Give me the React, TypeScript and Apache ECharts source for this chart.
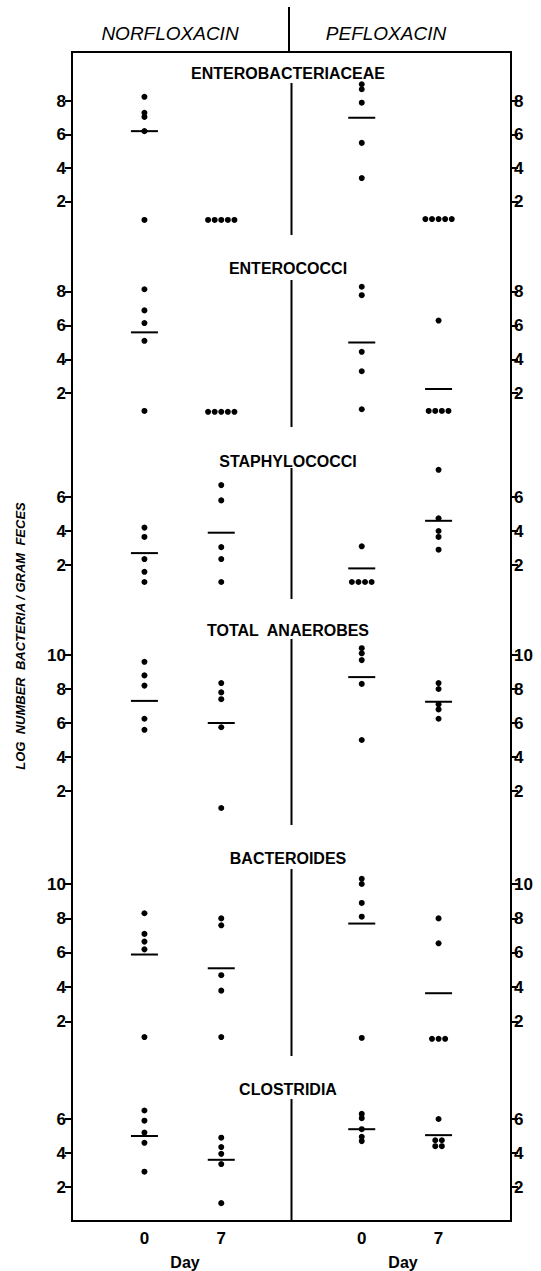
import React, { useEffect, useRef } from "react";
import * as echarts from "echarts";

// ---------- data ----------
const drugs = ["NORFLOXACIN", "PEFLOXACIN"];
const dayLabels = ["0", "7", "0", "7"];
const groupX = [1.65, 3.4, 6.6, 8.35]; // Norf d0, Norf d7, Pef d0, Pef d7
const panelNames = ["ENTEROBACTERIACEAE", "ENTEROCOCCI", "STAPHYLOCOCCI", "TOTAL  ANAEROBES", "BACTEROIDES", "CLOSTRIDIA"];

const enterobacteriaceae = [
  [8.25, 7.3, 7.05, 6.2, 0.9],
  [0.9, 0.9, 0.9, 0.9, 0.9],
  [9.0, 8.7, 7.9, 5.5, 3.4],
  [0.95, 0.95, 0.95, 0.95, 0.95],
];
const enterococci = [
  [8.15, 6.9, 6.15, 5.1, 0.95],
  [0.9, 0.9, 0.9, 0.9, 0.9],
  [8.3, 7.8, 4.45, 3.3, 1.05],
  [6.3, 0.95, 0.95, 0.95, 0.95],
];
const staphylococci = [
  [4.2, 3.65, 2.35, 1.6, 1.0],
  [6.7, 5.8, 3.05, 2.35, 1.0],
  [3.1, 1.0, 1.0, 1.0, 1.0],
  [7.6, 4.75, 4.0, 3.65, 2.9],
];
const totalAnaerobes = [
  [9.6, 8.8, 8.2, 6.25, 5.6],
  [8.35, 7.8, 7.4, 5.75, 1.0],
  [10.4, 10.1, 9.7, 8.3, 5.0],
  [8.35, 8.0, 7.1, 6.8, 6.25],
];
const bacteroides = [
  [8.3, 7.1, 6.65, 6.2, 1.1],
  [8.0, 7.6, 4.7, 3.8, 1.1],
  [10.3, 10.0, 8.9, 8.1, 1.05],
  [8.0, 6.55, 1.0, 1.0, 1.0],
];
const clostridia = [
  [6.5, 5.9, 5.2, 4.6, 2.9],
  [4.9, 4.35, 3.95, 3.35, 1.05],
  [6.3, 6.05, 5.4, 4.95, 4.7],
  [6.0, 4.75, 4.75, 4.4, 4.4],
];
const panelData = [enterobacteriaceae, enterococci, staphylococci, totalAnaerobes, bacteroides, clostridia];

const medEnterobacteriaceae = [6.2, null, 7.0, null];
const medEnterococci = [5.6, null, 5.0, 2.25];
const medStaphylococci = [2.7, 3.9, 1.8, 4.6];
const medTotalAnaerobes = [7.3, 6.0, 8.7, 7.25];
const medBacteroides = [5.9, 5.1, 7.7, 3.65];
const medClostridia = [5.0, 3.6, 5.4, 5.05];
const panelMedians = [medEnterobacteriaceae, medEnterococci, medStaphylococci, medTotalAnaerobes, medBacteroides, medClostridia];

const panelTicks = [
  [2, 4, 6, 8],
  [2, 4, 6, 8],
  [2, 4, 6],
  [2, 4, 6, 8, 10],
  [2, 4, 6, 8, 10],
  [2, 4, 6],
];

// ---------- layout ----------
const FRAME_L = 72;
const FRAME_R = 511;
const FRAME_T = 52;
const FRAME_B = 1221;
const panelTop = [52, 235, 427, 599, 825, 1056];
const panelZero = [235, 427, 599, 825, 1056, 1221];
const panelScale = [16.75, 16.9, 17, 17, 17.2, 17];
const titleY = [73, 268, 461, 630, 858, 1089];
const dividerTop = [83, 280, 468, 639, 869, 1099];
const DIVIDER_X = 5.0;
const TIE_SPACING = 0.15;

const FONT = "'Liberation Sans', Arial, Helvetica, sans-serif";

function spread(vals: number[], gx: number): number[][] {
  const counts: Record<string, number> = {};
  vals.forEach((v) => (counts[v] = (counts[v] || 0) + 1));
  const seen: Record<string, number> = {};
  return vals.map((v) => {
    const n = counts[v];
    const i = seen[v] || 0;
    seen[v] = i + 1;
    return [gx + (i - (n - 1) / 2) * TIE_SPACING, v];
  });
}

function buildOption() {
  const grids: any[] = [];
  const xAxes: any[] = [];
  const yAxes: any[] = [];
  const series: any[] = [];
  const last = panelNames.length - 1;

  panelNames.forEach((name, p) => {
    const height = panelZero[p] - panelTop[p];
    const maxV = height / panelScale[p];
    grids.push({ left: FRAME_L, width: FRAME_R - FRAME_L, top: panelTop[p], height });
    xAxes.push({
      type: "value",
      gridIndex: p,
      min: 0,
      max: 10,
      show: p === last,
      axisLine: { show: false },
      axisTick: { show: false },
      splitLine: { show: false },
      axisLabel: {
        show: p === last,
        customValues: groupX,
        margin: 9,
        color: "#000",
        fontFamily: FONT,
        fontWeight: "bold",
        fontSize: 17,
        formatter: (v: number) => {
          let best = 0;
          groupX.forEach((g, i) => {
            if (Math.abs(g - v) < Math.abs(groupX[best] - v)) best = i;
          });
          return dayLabels[best];
        },
      },
    });
    ["left", "right"].forEach((pos) => {
      yAxes.push({
        type: "value",
        gridIndex: p,
        position: pos,
        min: 0,
        max: maxV,
        axisLine: { show: false },
        splitLine: { show: false },
        axisTick: {
          show: true,
          inside: false,
          length: 7,
          customValues: panelTicks[p],
          lineStyle: { color: "#000", width: 2 },
        },
        axisLabel: {
          customValues: panelTicks[p],
          margin: pos === "left" ? 6 : 3,
          color: "#000",
          fontFamily: FONT,
          fontWeight: "bold",
          fontSize: 17,
        },
      });
    });

    const dots: number[][] = [];
    panelData[p].forEach((vals, g) => dots.push(...spread(vals, groupX[g])));
    series.push({
      type: "scatter",
      name: name + " values",
      xAxisIndex: p,
      yAxisIndex: 2 * p,
      data: dots,
      symbol: "circle",
      symbolSize: 6,
      itemStyle: { color: "#000", opacity: 1 },
      silent: true,
    });
    const meds: number[][] = [];
    panelMedians[p].forEach((m, g) => {
      if (m !== null) meds.push([groupX[g], m as number]);
    });
    series.push({
      type: "scatter",
      name: name + " median",
      xAxisIndex: p,
      yAxisIndex: 2 * p,
      data: meds,
      symbol: "rect",
      symbolSize: [27, 2],
      itemStyle: { color: "#000", opacity: 1 },
      silent: true,
      z: 1,
    });
    series.push({
      type: "line",
      name: name + " divider",
      xAxisIndex: p,
      yAxisIndex: 2 * p,
      data: [
        [DIVIDER_X, 0],
        [DIVIDER_X, (panelZero[p] - dividerTop[p]) / panelScale[p]],
      ],
      showSymbol: false,
      symbol: "none",
      lineStyle: { color: "#000", width: 2 },
      silent: true,
    });
  });

  const graphic: any[] = [
    {
      type: "rect",
      shape: { x: FRAME_L, y: FRAME_T, width: FRAME_R - FRAME_L, height: FRAME_B - FRAME_T },
      style: { fill: "none", stroke: "#000", lineWidth: 2 },
      silent: true,
    },
    {
      type: "line",
      shape: { x1: 289, y1: 7, x2: 289, y2: FRAME_T },
      style: { stroke: "#000", lineWidth: 2 },
      silent: true,
    },
    {
      type: "text",
      x: 170,
      y: 33,
      style: { text: drugs[0], textAlign: "center", textVerticalAlign: "middle", font: `italic 19px ${FONT}`, fill: "#000" },
    },
    {
      type: "text",
      x: 386,
      y: 33,
      style: { text: drugs[1], textAlign: "center", textVerticalAlign: "middle", font: `italic 19px ${FONT}`, fill: "#000" },
    },
    {
      type: "text",
      x: 185,
      y: 1262,
      style: { text: "Day", textAlign: "center", textVerticalAlign: "middle", font: `bold 16px ${FONT}`, fill: "#000" },
    },
    {
      type: "text",
      x: 403,
      y: 1262,
      style: { text: "Day", textAlign: "center", textVerticalAlign: "middle", font: `bold 16px ${FONT}`, fill: "#000" },
    },
    {
      type: "text",
      x: 20,
      y: 636,
      rotation: Math.PI / 2,
      style: {
        text: "LOG  NUMBER  BACTERIA / GRAM  FECES",
        textAlign: "center",
        textVerticalAlign: "middle",
        font: `italic bold 13px ${FONT}`,
        fill: "#000",
      },
    },
  ];
  panelNames.forEach((name, p) => {
    graphic.push({
      type: "text",
      x: 288,
      y: titleY[p],
      style: { text: name, textAlign: "center", textVerticalAlign: "middle", font: `bold 16px ${FONT}`, fill: "#000" },
    });
  });

  return {
    animation: false,
    backgroundColor: "#fff",
    grid: grids,
    xAxis: xAxes,
    yAxis: yAxes,
    series,
    graphic,
  };
}

export default function App() {
  const ref = useRef<HTMLDivElement>(null);
  useEffect(() => {
    if (!ref.current) return;
    const chart = echarts.init(ref.current, undefined, { renderer: "svg" });
    chart.setOption(buildOption() as any);
    return () => chart.dispose();
  }, []);
  return (
    <div
      ref={ref}
      style={{ position: "absolute", left: 0, top: 0, width: 541, height: 1271, background: "#fff" }}
    />
  );
}
